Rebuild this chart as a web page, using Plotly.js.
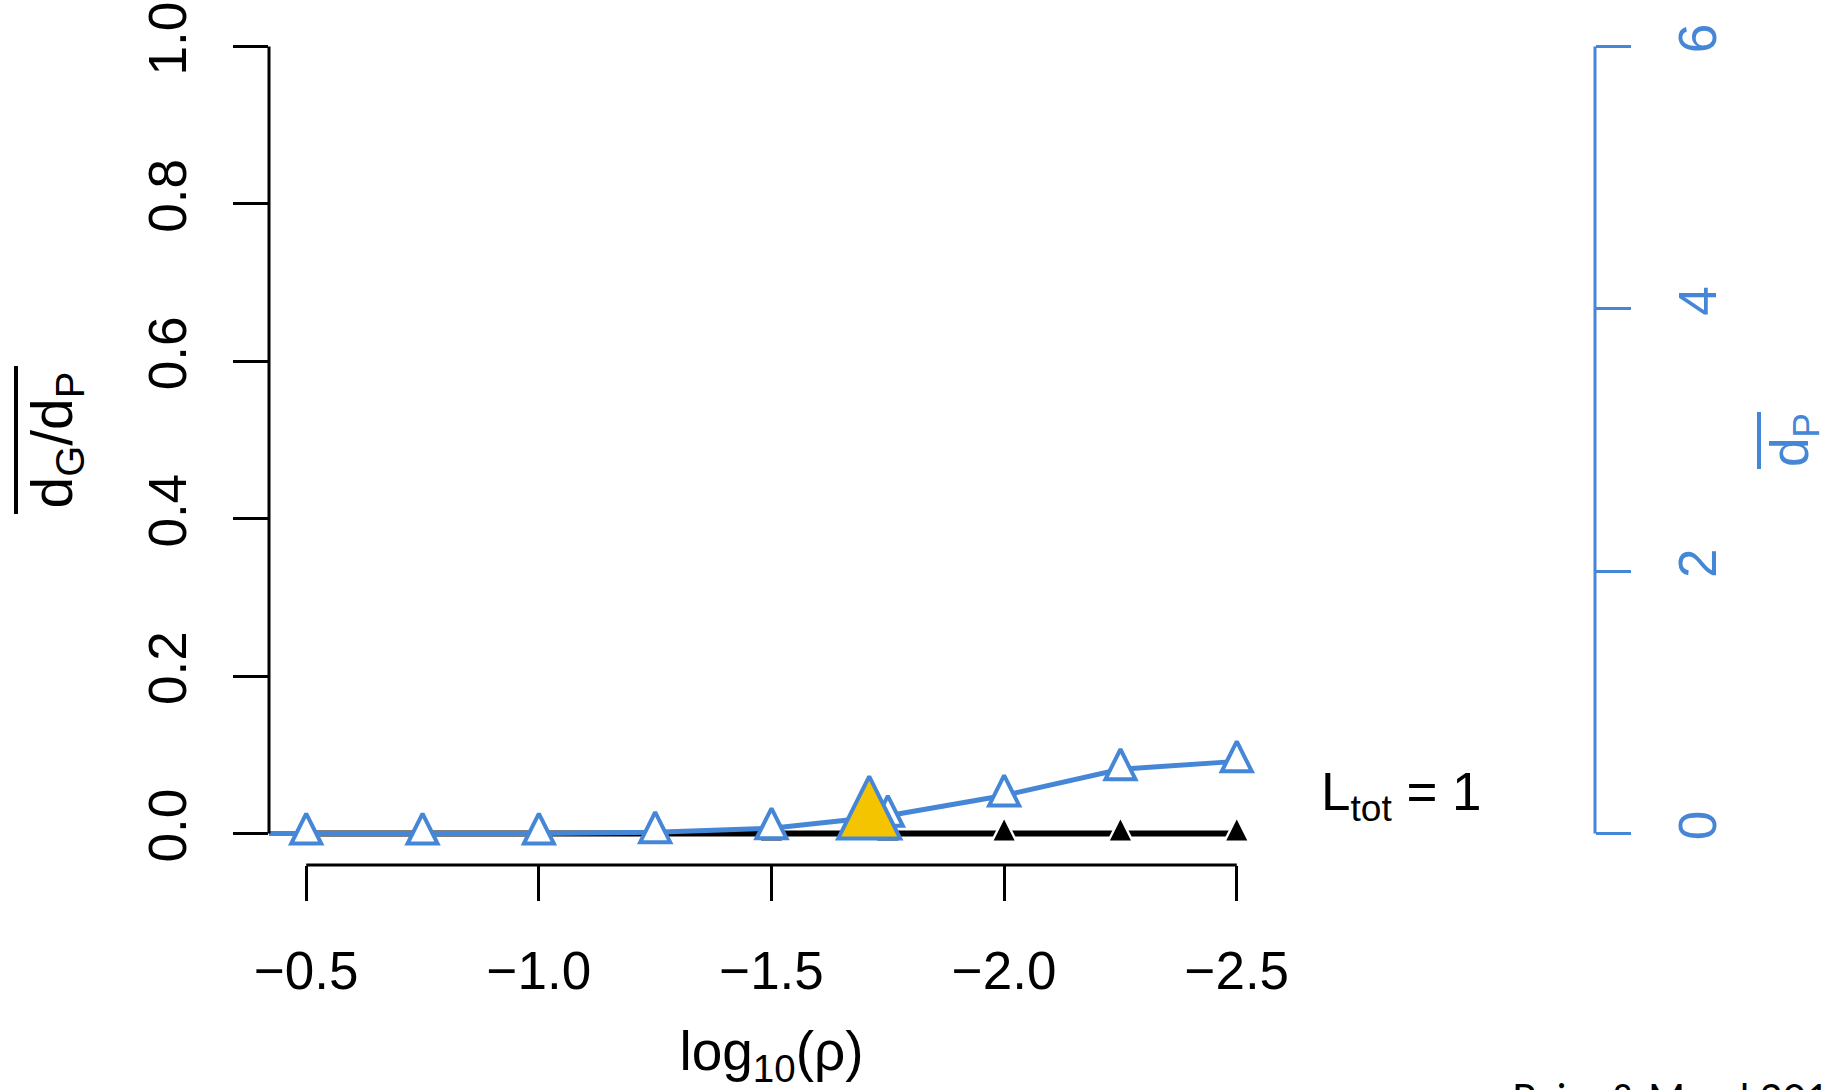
<!DOCTYPE html>
<html>
<head>
<meta charset="utf-8">
<script src="https://cdn.plot.ly/plotly-3.0.1.min.js"></script>
<style>
  html, body { margin: 0; padding: 0; background: #ffffff; }
  #chart { width: 1833px; height: 1090px; }
</style>
</head>
<body>
<div id="chart"></div>
<script>
// Tick positions for the three axes
const xTickVals = [-0.5, -1.0, -1.5, -2.0, -2.5];
const leftTickVals = [0, 0.2, 0.4, 0.6, 0.8, 1.0];
const rightTickVals = [0, 2, 4, 6];

// Mean d_G/d_P (left axis) against log10(rho)
const logRho = [-0.5, -0.75, -1.0, -1.25, -1.5, -1.75, -2.0, -2.25, -2.5];
const ratioGP = [0, 0, 0, 0, 0, 0, 0, 0, 0];

// Mean d_P (right axis) against log10(rho)
const logRhoP = [-0.25, -0.5, -0.75, -1.0, -1.25, -1.5, -1.75, -2.0, -2.25, -2.5];
const meanDP = [0, 0, 0, 0, 0.01, 0.04, 0.135, 0.29, 0.49, 0.55];

// Highlighted point (right axis)
const highlightX = [-1.71];
const highlightY = [0.12];

const BLUE = '#4587d6';
const GOLD = '#f4c400';
const FONT = 'Liberation Sans, Arial, Helvetica, sans-serif';

// Plot region in pixels
const W = 1833, H = 1090;
const mL = 269, mR = 0, mT = 15, mB = 225;
const paperW = W - mL - mR;
const paperH = H - mT - mB;
const xDomainEnd = (1274 - mL) / paperW;
const rightAxisPos = (1595 - mL) / paperW;

// Upward triangle centred on its centroid: an arrow-down glyph turned
// half a turn and pushed off by two thirds of its height.
function tri(size, fill, lineColor, lineWidth) {
  return {
    symbol: 'arrow-down', angle: 180, standoff: size * 2 / 3,
    size: size, color: fill,
    line: { color: lineColor, width: lineWidth }
  };
}

const traces = [
  {
    x: logRho, y: ratioGP, type: 'scatter', mode: 'lines',
    line: { color: '#000000', width: 6 }, yaxis: 'y', hoverinfo: 'skip'
  },
  {
    // white halo gives the broken-line look around each point
    x: logRho, y: ratioGP, type: 'scatter', mode: 'markers',
    marker: tri(29, '#ffffff', '#ffffff', 0),
    yaxis: 'y', hoverinfo: 'skip'
  },
  {
    x: logRho, y: ratioGP, type: 'scatter', mode: 'markers',
    marker: tri(21, '#000000', '#000000', 0),
    yaxis: 'y'
  },
  {
    x: logRhoP, y: meanDP, type: 'scatter', mode: 'lines+markers',
    line: { color: BLUE, width: 5 },
    marker: tri(30, '#ffffff', BLUE, 4),
    yaxis: 'y2'
  },
  {
    x: highlightX, y: highlightY, type: 'scatter', mode: 'markers',
    marker: tri(62, GOLD, BLUE, 4),
    yaxis: 'y2'
  }
];

const layout = {
  width: W, height: H,
  margin: { l: mL, r: mR, t: mT, b: mB, pad: 0 },
  paper_bgcolor: '#ffffff', plot_bgcolor: '#ffffff',
  showlegend: false,
  font: { family: FONT, size: 53, color: '#000000' },
  xaxis: {
    domain: [0, xDomainEnd],
    range: [-0.42, -2.58],
    showline: false, showgrid: false, zeroline: false,
    ticks: 'outside', ticklen: 35, tickwidth: 3, tickcolor: '#000000',
    tickvals: xTickVals, tickformat: '.1f',
    tickfont: { family: FONT, size: 53, color: '#000000' },
    ticklabelstandoff: 24,
    automargin: false,
    title: { text: 'log<sub>10</sub>(ρ)', font: { family: FONT, size: 55 }, standoff: 55 }
  },
  yaxis: {
    range: [-0.04, 1.04],
    showline: false, showgrid: false, zeroline: false,
    ticks: 'outside', ticklen: 35, tickwidth: 3, tickcolor: '#000000',
    tickvals: leftTickVals, tickformat: '.1f', tickangle: -90,
    tickfont: { family: FONT, size: 53, color: '#000000' },
    ticklabelstandoff: 26,
    automargin: false,
    title: { text: 'd<sub>G</sub>/d<sub>P</sub>', font: { family: FONT, size: 57 }, standoff: 46 }
  },
  yaxis2: {
    overlaying: 'y', side: 'right', anchor: 'free', position: rightAxisPos,
    range: [-0.24, 6.24],
    showline: false, showgrid: false, zeroline: false,
    ticks: 'outside', ticklen: 35, tickwidth: 3, tickcolor: BLUE,
    tickvals: rightTickVals, tickformat: 'd', tickangle: -90,
    tickfont: { family: FONT, size: 53, color: BLUE },
    ticklabelstandoff: 21,
    automargin: false,
    title: { text: 'd<sub>P</sub>', font: { family: FONT, size: 53, color: BLUE }, standoff: 45 }
  },
  shapes: [
    // axis lines spanning first to last tick
    { type: 'line', xref: 'x', yref: 'paper',
      x0: xTickVals[0], x1: xTickVals[xTickVals.length - 1], y0: 0, y1: 0,
      line: { color: '#000000', width: 3 } },
    { type: 'line', xref: 'paper', yref: 'y',
      x0: 0, x1: 0, y0: leftTickVals[0], y1: leftTickVals[leftTickVals.length - 1],
      line: { color: '#000000', width: 3 } },
    { type: 'line', xref: 'paper', yref: 'y2',
      x0: rightAxisPos, x1: rightAxisPos,
      y0: rightTickVals[0], y1: rightTickVals[rightTickVals.length - 1],
      line: { color: BLUE, width: 3 } },
    // overbars on the axis titles
    { type: 'line', xref: 'paper', yref: 'paper',
      x0: (16 - mL) / paperW, x1: (16 - mL) / paperW,
      y0: (865 - 514) / paperH, y1: (865 - 366) / paperH,
      line: { color: '#000000', width: 4 } },
    { type: 'line', xref: 'paper', yref: 'paper',
      x0: (1759 - mL) / paperW, x1: (1759 - mL) / paperW,
      y0: (865 - 469) / paperH, y1: (865 - 412) / paperH,
      line: { color: BLUE, width: 4 } }
  ],
  annotations: [
    { text: 'L<sub>tot</sub> = 1', xref: 'paper', yref: 'paper',
      x: (1401 - mL) / paperW, y: (865 - 795) / paperH,
      xanchor: 'center', yanchor: 'middle', showarrow: false,
      font: { family: FONT, size: 53, color: '#000000' } },
    { text: 'Raim &amp; Mand 2011', xref: 'paper', yref: 'paper',
      x: (1510 - mL) / paperW, y: (865 - 1072) / paperH,
      xanchor: 'left', yanchor: 'top', showarrow: false,
      font: { family: 'Lato, Open Sans, sans-serif', size: 40, color: '#000000' } }
  ]
};

Plotly.newPlot('chart', traces, layout, { displayModeBar: false, staticPlot: true });
</script>
</body>
</html>
